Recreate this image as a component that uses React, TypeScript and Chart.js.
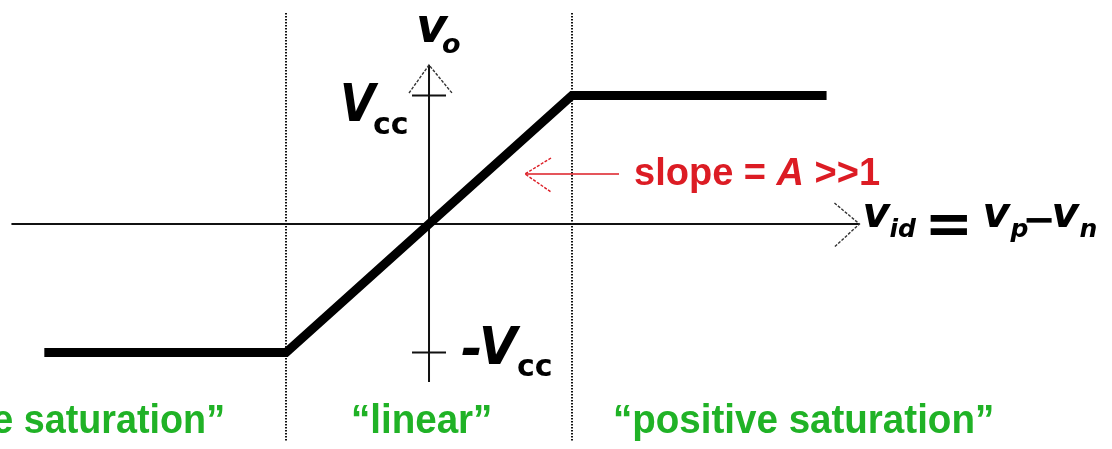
import React, { useEffect, useRef } from "react";
import { Chart, registerables } from "chart.js";

Chart.register(...registerables);

// Op-amp transfer characteristic, normalised:
// input v_id in units of the linear-region half-width, output v_o in units of Vcc.
const vid = [-2.69, -1, 1, 2.78];
const vo = [-1, -1, 1, 1];

// Boundaries between the operating regions on the v_id axis
const regionEdges = [-1, 1];
// Supply rails marked on the v_o axis
const railTicks = [1, -1];
// Region names shown under the plot
const regionLabels = ["\u201Cnegative saturation\u201D", "\u201Clinear\u201D", "\u201Cpositive saturation\u201D"];

const W = 1112;
const H = 449;

// Visible window of the plane
const X_MIN = -3.0;
const X_MAX = 4.776;
const Y_MIN = -1.751;
const Y_MAX = 1.743;

// Extents of the drawn axes
const AXIS_X_FROM = -2.92;
const AXIS_X_TO = 3.01;
const AXIS_Y_FROM = -1.23;
const AXIS_Y_TO = 1.237;

const BOLD_IT = "'DejaVu Sans'";
const LABEL_FONT = "'Liberation Sans', Arial, sans-serif";

type Run = { t: string; font: string; dy?: number; dx?: number };

function drawRuns(ctx: CanvasRenderingContext2D, x: number, y: number, runs: Run[], color: string, sx = 1) {
  let cx = x;
  ctx.save();
  ctx.fillStyle = color;
  ctx.textBaseline = "alphabetic";
  for (const r of runs) {
    ctx.font = r.font;
    cx += r.dx || 0;
    ctx.save();
    ctx.translate(cx, y + (r.dy || 0));
    ctx.scale(sx, 1);
    ctx.fillText(r.t, 0, 0);
    ctx.restore();
    cx += ctx.measureText(r.t).width * sx;
  }
  ctx.restore();
  return cx;
}

function text(ctx: CanvasRenderingContext2D, t: string, font: string, x: number, y: number, color = "#000", align: CanvasTextAlign = "left", sx = 1) {
  ctx.save();
  ctx.font = font;
  ctx.fillStyle = color;
  ctx.textAlign = align;
  ctx.textBaseline = "alphabetic";
  ctx.translate(x, y);
  ctx.scale(sx, 1);
  ctx.fillText(t, 0, 0);
  ctx.restore();
}

function line(ctx: CanvasRenderingContext2D, pts: number[][], width: number, color: string, dash: number[] = []) {
  ctx.save();
  ctx.beginPath();
  ctx.lineWidth = width;
  ctx.strokeStyle = color;
  ctx.setLineDash(dash);
  ctx.moveTo(pts[0][0], pts[0][1]);
  for (let i = 1; i < pts.length; i++) ctx.lineTo(pts[i][0], pts[i][1]);
  ctx.stroke();
  ctx.restore();
}

const diagramPlugin = {
  id: "opampDiagram",
  beforeDatasetsDraw(chart: any) {
    const ctx: CanvasRenderingContext2D = chart.ctx;
    const X = (v: number) => chart.scales.x.getPixelForValue(v);
    const Y = (v: number) => chart.scales.y.getPixelForValue(v);
    const ox = X(0);
    const oy = Y(0);

    // dotted region boundaries
    for (const e of regionEdges) {
      const px = Math.round(X(e));
      line(ctx, [[px, 13], [px, 441]], 2, "#111", [1.5, 1.5]);
    }

    // axes
    line(ctx, [[X(AXIS_X_FROM), oy], [X(AXIS_X_TO), oy]], 2, "#111");
    line(ctx, [[ox, Y(AXIS_Y_TO)], [ox, Y(AXIS_Y_FROM)]], 2, "#111");

    // open arrow heads
    const hx = X(AXIS_X_TO);
    line(ctx, [[hx - 25, oy - 21], [hx, oy], [hx - 25, oy + 23]], 1.4, "#333", [3, 1.5]);
    const vy = Y(AXIS_Y_TO);
    line(ctx, [[ox - 20, vy + 28], [ox, vy], [ox + 23, vy + 28]], 1.4, "#333", [3, 1.5]);

    // rail ticks
    for (const t of railTicks) {
      line(ctx, [[ox - 17, Y(t)], [ox + 17, Y(t)]], 2, "#111");
    }
  },
  afterDatasetsDraw(chart: any) {
    const ctx: CanvasRenderingContext2D = chart.ctx;
    const X = (v: number) => chart.scales.x.getPixelForValue(v);
    const Y = (v: number) => chart.scales.y.getPixelForValue(v);
    const ox = X(0);
    const oy = Y(0);

    // v_o label at the top of the vertical axis
    text(ctx, "v", `italic bold 48px ${BOLD_IT}`, ox - 13, 42);
    text(ctx, "o", `italic bold 27px ${BOLD_IT}`, ox + 13, 53);

    // Vcc and -Vcc rail labels
    const yTop = Y(railTicks[0]);
    const yBot = Y(railTicks[1]);
    text(ctx, "V", `italic bold 52px ${BOLD_IT}`, ox - 89, yTop + 26, "#000", "left", 0.88);
    text(ctx, "cc", `bold 30px ${BOLD_IT}`, ox - 56, yTop + 39);
    text(ctx, "-", `italic bold 52px ${BOLD_IT}`, ox + 32, yBot + 14);
    text(ctx, "V", `italic bold 52px ${BOLD_IT}`, ox + 50, yBot + 12, "#000", "left", 0.95);
    text(ctx, "cc", `bold 30px ${BOLD_IT}`, ox + 88, yBot + 24);

    // v_id = v_p - v_n at the end of the horizontal axis
    const bx = X(AXIS_X_TO);
    const big = `italic bold 42px ${BOLD_IT}`;
    const sub = `italic bold 25px ${BOLD_IT}`;
    text(ctx, "v", big, bx + 3, oy + 3);
    text(ctx, "id", sub, bx + 30, oy + 13);
    text(ctx, "=", `bold 58px ${BOLD_IT}`, bx + 65, oy + 19);
    text(ctx, "v", big, bx + 123, oy + 3);
    text(ctx, "p", sub, bx + 151, oy + 13);
    text(ctx, "\u2212", `bold 40px ${BOLD_IT}`, bx + 163, oy + 9);
    text(ctx, "v", big, bx + 192, oy + 3);
    text(ctx, "n", sub, bx + 220, oy + 13);

    // slope annotation
    const red = "#dc1c24";
    const ay = oy - 50;
    const tip = ox + 96;
    line(ctx, [[tip, ay], [tip + 94, ay]], 1.6, red);
    line(ctx, [[tip + 26, ay - 16], [tip, ay], [tip + 26, ay + 18]], 1.4, red, [3, 1.5]);
    const sf = `bold 38px ${LABEL_FONT}`;
    const si = `italic bold 38px ${LABEL_FONT}`;
    drawRuns(ctx, tip + 109, ay + 11, [
      { t: "slope = ", font: sf },
      { t: "A", font: si },
      { t: " >>1", font: sf },
    ], red, 1.0);

    // region names
    const green = "#20b226";
    const gf = `bold 41px ${LABEL_FONT}`;
    const gy = 433;
    text(ctx, regionLabels[0], gf, X(regionEdges[0]) - 61, gy, green, "right", 0.92);
    text(ctx, regionLabels[1], gf, ox - 78, gy, green, "left", 0.94);
    text(ctx, regionLabels[2], gf, X(regionEdges[1]) + 41, gy, green, "left", 0.94);
  },
};

export default function App() {
  const ref = useRef<HTMLCanvasElement | null>(null);

  useEffect(() => {
    if (!ref.current) return;
    const chart = new Chart(ref.current, {
      type: "scatter",
      data: {
        datasets: [
          {
            data: vid.map((x, i) => ({ x, y: vo[i] })),
            showLine: true,
            borderColor: "#000",
            borderWidth: 9,
            borderCapStyle: "butt",
            borderJoinStyle: "miter",
            pointRadius: 0,
            pointHoverRadius: 0,
            tension: 0,
            clip: false,
          } as any,
        ],
      },
      options: {
        responsive: false,
        animation: false,
        events: [],
        layout: { padding: 0 },
        plugins: {
          legend: { display: false },
          tooltip: { enabled: false },
          title: { display: false },
        },
        scales: {
          x: { type: "linear", min: X_MIN, max: X_MAX, display: false },
          y: { type: "linear", min: Y_MIN, max: Y_MAX, display: false },
        },
      },
      plugins: [diagramPlugin],
    });
    return () => chart.destroy();
  }, []);

  return (
    <div style={{ position: "fixed", left: 0, top: 0, width: W, height: H, background: "#fff" }}>
      <canvas ref={ref} width={W} height={H} style={{ display: "block", width: W, height: H }} />
    </div>
  );
}
